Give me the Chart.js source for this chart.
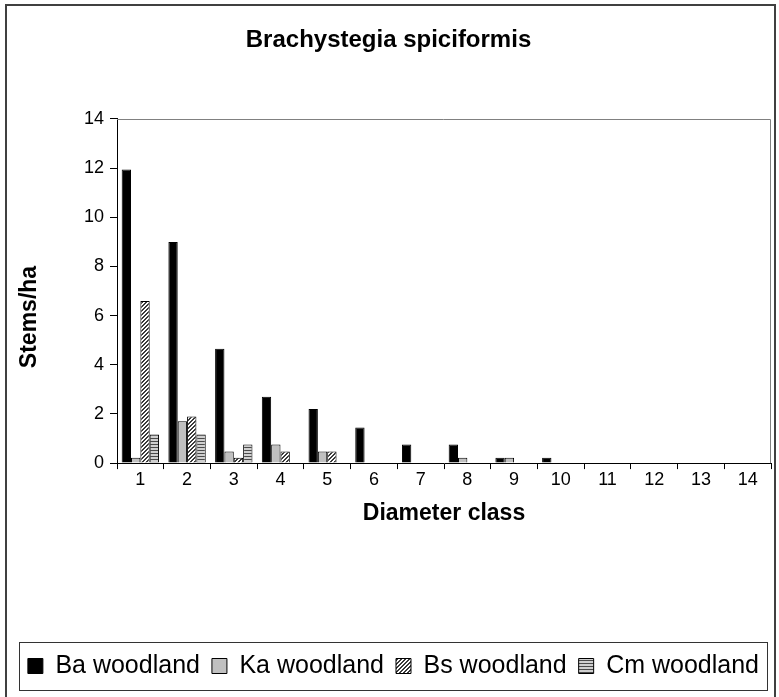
<!DOCTYPE html>
<html>
<head>
<meta charset="utf-8">
<script src="https://cdn.jsdelivr.net/npm/chart.js@4.4.1/dist/chart.umd.min.js"></script>
<style>
  html, body { margin: 0; padding: 0; background: #fff; }
  #wrap { width: 779px; height: 697px; position: relative; }
</style>
</head>
<body>
<div id="wrap"><canvas id="c" width="779" height="697"></canvas></div>
<script>
const categories = ['1','2','3','4','5','6','7','8','9','10','11','12','13','14'];
const baWoodland = [11.95, 9.0, 4.65, 2.7, 2.2, 1.45, 0.76, 0.76, 0.22, 0.22, 0, 0, 0, 0];
const kaWoodland = [0.22, 1.7, 0.47, 0.76, 0.47, 0, 0, 0.22, 0.22, 0, 0, 0, 0, 0];
const bsWoodland = [6.6, 1.9, 0.22, 0.47, 0.47, 0, 0, 0, 0, 0, 0, 0, 0, 0];
const cmWoodland = [1.16, 1.16, 0.76, 0, 0, 0, 0, 0, 0, 0, 0, 0, 0, 0];
const seriesNames = ['Ba woodland', 'Ka woodland', 'Bs woodland', 'Cm woodland'];
const yTicks = { min: 0, max: 14, step: 2 };
const yTitle = 'Stems/ha';

const FONT = "'Liberation Sans', Arial, sans-serif";
const ctx0 = document.getElementById('c').getContext('2d');

function hatchPattern() {
  const c = document.createElement('canvas');
  c.width = 4; c.height = 4;
  const x = c.getContext('2d');
  x.fillStyle = '#ffffff'; x.fillRect(0, 0, 4, 4);
  x.fillStyle = '#3a3a3a';
  for (let i = 0; i < 4; i++) {
    x.fillRect(i, 3 - i, 1, 1);
    x.fillRect((i + 1) % 4, 3 - i, 1, 1);
  }
  return ctx0.createPattern(c, 'repeat');
}
function stripePattern() {
  const c = document.createElement('canvas');
  c.width = 3; c.height = 3;
  const x = c.getContext('2d');
  x.fillStyle = '#cfcfcf'; x.fillRect(0, 0, 3, 3);
  x.fillStyle = '#4a4a4a'; x.fillRect(0, 0, 3, 1);
  return ctx0.createPattern(c, 'repeat');
}

Chart.defaults.color = '#000';
Chart.defaults.font.family = FONT;

const framePlugin = {
  id: 'frame',
  beforeDatasetsDraw(chart) {
    const { ctx, chartArea: a } = chart;
    ctx.save();
    ctx.strokeStyle = '#808080';
    ctx.lineWidth = 1;
    ctx.beginPath();
    ctx.moveTo(a.left, a.top + 0.5);
    ctx.lineTo(a.right - 0.5, a.top + 0.5);
    ctx.lineTo(a.right - 0.5, a.bottom);
    ctx.stroke();
    ctx.restore();
  },
  afterDraw(chart) {
    const { ctx } = chart;
    ctx.save();
    ctx.translate(30, 317);
    ctx.rotate(-Math.PI / 2);
    ctx.font = "bold 23px " + FONT;
    ctx.fillStyle = '#000';
    ctx.textAlign = 'center';
    ctx.textBaseline = 'middle';
    ctx.fillText(yTitle, 0, 0);
    ctx.restore();

    ctx.save();
    ctx.strokeStyle = '#404040';
    ctx.lineWidth = 2;
    ctx.strokeRect(6, 5, 769, 700);
    const hb = chart.legend.legendHitBoxes;
    if (hb && hb.length) {
      const cy = hb[0].top + hb[0].height / 2;
      ctx.strokeStyle = '#333';
      ctx.lineWidth = 1;
      ctx.strokeRect(19.5, Math.round(cy - 24) + 0.5, 748, 48);
    }
    ctx.restore();
  }
};

const common = { borderColor: '#000', borderWidth: 1, categoryPercentage: 0.8, barPercentage: 1.0 };

new Chart(ctx0, {
  type: 'bar',
  data: {
    labels: categories,
    datasets: [
      Object.assign({ label: seriesNames[0], data: baWoodland, backgroundColor: '#000' }, common),
      Object.assign({ label: seriesNames[1], data: kaWoodland, backgroundColor: '#c0c0c0' }, common),
      Object.assign({ label: seriesNames[2], data: bsWoodland, backgroundColor: hatchPattern() }, common),
      Object.assign({ label: seriesNames[3], data: cmWoodland, backgroundColor: stripePattern() }, common)
    ]
  },
  options: {
    responsive: false,
    animation: false,
    layout: { padding: { left: 6, right: 8, top: 0, bottom: 8.5 } },
    plugins: {
      title: {
        display: true,
        text: 'Brachystegia spiciformis',
        font: { size: 24, weight: 'bold', family: FONT },
        color: '#000',
        padding: { top: 25.6, bottom: 64.6 }
      },
      legend: {
        position: 'bottom',
        align: 'end',
        labels: {
          font: { size: 25, family: FONT },
          color: '#000',
          boxWidth: 15,
          boxHeight: 15,
          padding: 12
        }
      },
      tooltip: { enabled: false }
    },
    scales: {
      x: {
        offset: true,
        grid: { display: true, drawOnChartArea: false, drawTicks: true, tickLength: 6, color: '#000', tickColor: '#000', offset: true },
        border: { display: true, color: '#000', width: 1 },
        ticks: { font: { size: 18, family: FONT }, color: '#000', padding: 0, maxRotation: 0 },
        title: {
          display: true,
          text: 'Diameter class',
          font: { size: 23, weight: 'bold', family: FONT },
          color: '#000',
          padding: { top: 9.5, bottom: 113.7 }
        }
      },
      y: {
        min: yTicks.min,
        max: yTicks.max,
        afterFit(scale) { scale.width = 111; },
        grid: { display: true, drawOnChartArea: false, drawTicks: true, tickLength: 7, color: '#000', tickColor: '#000' },
        border: { display: true, color: '#000', width: 1 },
        ticks: { stepSize: yTicks.step, font: { size: 18, family: FONT }, color: '#000', padding: 6 },
        title: { display: false }
      }
    }
  },
  plugins: [framePlugin]
});
</script>
</body>
</html>
